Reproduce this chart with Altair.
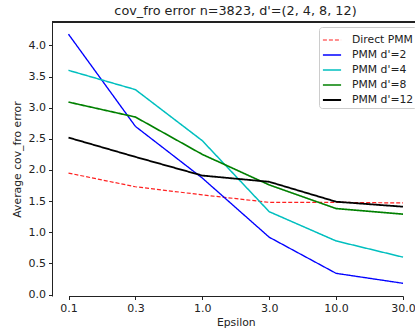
import altair as alt
import pandas as pd

epsilons = ["0.1", "0.3", "1.0", "3.0", "10.0", "30.0"]
series_names = ["Direct PMM", "PMM d'=2", "PMM d'=4", "PMM d'=8", "PMM d'=12"]
direct_pmm = [1.95, 1.73, 1.60, 1.48, 1.48, 1.47]
pmm_d2 = [4.18, 2.70, 1.87, 0.92, 0.34, 0.18]
pmm_d4 = [3.60, 3.29, 2.47, 1.33, 0.86, 0.60]
pmm_d8 = [3.09, 2.85, 2.25, 1.76, 1.38, 1.29]
pmm_d12 = [2.52, 2.21, 1.91, 1.81, 1.49, 1.41]
y_ticks = [0.0, 0.5, 1.0, 1.5, 2.0, 2.5, 3.0, 3.5, 4.0]

colors = ["#ff2020", "#0000ff", "#00bfbf", "#008000", "#000000"]
dashes = [[4, 2], [1, 0], [1, 0], [1, 0], [1, 0]]
widths = [1.2, 1.8, 1.8, 1.8, 1.8]

rows = []
for name, vals in zip(series_names, [direct_pmm, pmm_d2, pmm_d4, pmm_d8, pmm_d12]):
    for i, (e, v) in enumerate(zip(epsilons, vals)):
        rows.append({"Epsilon": e, "value": v, "series": name, "order": i})
df = pd.DataFrame(rows)

W, H = 363, 274

legend = alt.Legend(
    title=None, orient="none", legendX=267, legendY=5,
    fillColor="rgba(255,255,255,0.85)", strokeColor="#cccccc", cornerRadius=3,
    padding=3, labelFontSize=10.8, labelFont="DejaVu Sans", labelColor="#222222",
    symbolType="stroke", symbolSize=330, symbolStrokeWidth=2,
    rowPadding=-2, labelOffset=10,
)

lines = alt.Chart(df).mark_line().encode(
    x=alt.X("Epsilon:O", sort=epsilons,
            scale=alt.Scale(type="point", range=[16.5, 351.0], padding=0),
            axis=alt.Axis(title="Epsilon", labelAngle=0)),
    y=alt.Y("value:Q", scale=alt.Scale(domain=[-0.024, 4.376], nice=False, zero=False),
            axis=alt.Axis(title="Average cov_fro error", values=y_ticks, format=".1f")),
    color=alt.Color("series:N", sort=series_names,
                    scale=alt.Scale(domain=series_names, range=colors), legend=legend),
    strokeDash=alt.StrokeDash("series:N", sort=series_names,
                              scale=alt.Scale(domain=series_names, range=dashes), legend=legend),
    strokeWidth=alt.StrokeWidth("series:N", sort=series_names,
                                scale=alt.Scale(domain=series_names, range=widths), legend=legend),
    order="order:Q",
)

top_spine = alt.Chart(df).mark_rule(color="#222222", strokeWidth=1).encode(
    x=alt.value(0), x2=alt.value(W), y=alt.value(0)
)

chart = alt.layer(top_spine, lines).properties(
    width=W, height=H,
    title=alt.Title("cov_fro error n=3823, d'=(2, 4, 8, 12)", fontSize=12.8,
                    font="DejaVu Sans", fontWeight="normal", color="#222222",
                    anchor="middle", offset=4, dx=2),
    autosize=alt.AutoSizeParams(type="none"),
    padding={"left": 52, "top": 22, "right": 0, "bottom": 34},
).configure_view(stroke=None).configure_axis(
    grid=False, domainColor="#222222", domainWidth=1, tickColor="#222222",
    tickSize=3.5, labelFont="DejaVu Sans", labelFontSize=11, labelColor="#222222",
    titleFont="DejaVu Sans", titleFontSize=10.8, titleFontWeight="normal", titleColor="#222222",
    labelPadding=3,
).configure_axisY(titlePadding=6).configure_axisX(titlePadding=3)

chart.save("out.html", embed_options={"renderer": "svg", "actions": False})
